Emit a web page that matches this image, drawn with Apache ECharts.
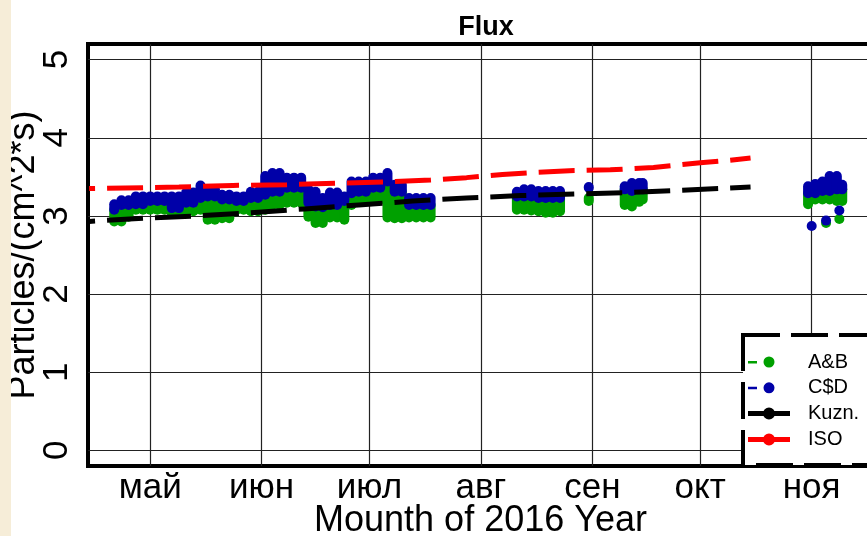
<!DOCTYPE html>
<html><head><meta charset="utf-8">
<script src="https://cdn.jsdelivr.net/npm/echarts@6/dist/echarts.min.js"></script>
<style>html,body{margin:0;padding:0;background:#fff;}#c{width:867px;height:536px;}</style>
</head><body><div id="c"></div>
<script>
// Month tick positions (day of year 2016) and labels
const monthDays = [122, 153, 183, 214, 245, 275, 306];
const monthLabels = ['май', 'июн', 'июл', 'авг', 'сен', 'окт', 'ноя'];
const yTicks = [0, 1, 2, 3, 4, 5];

// Point clouds: sample day, and lower/upper envelope of each series' points
const cloudDays = [112,114,116,118,120,122,124,126,128,130,132,134,136,138,140,142,144,146,148,150,
  152,154,156,158,160,162,164,166,168,170,172,174,176,178,180,182,184,186,188,190,192,194,196,198,200,
  224,226,228,230,232,234,236, 244, 254,256,258,259, 305,307,309,311,313,314.5];
const cdHigh = [3.15,3.20,3.20,3.25,3.25,3.25,3.25,3.25,3.25,3.25,3.30,3.30,3.39,3.34,3.34,3.27,3.27,3.25,3.25,3.31,
  3.31,3.51,3.55,3.55,3.49,3.49,3.49,3.34,3.31,3.23,3.30,3.30,3.25,3.44,3.44,3.44,3.49,3.49,3.55,3.40,3.40,3.23,3.23,3.23,3.23,
  3.31,3.34,3.34,3.32,3.32,3.32,3.32, 3.37, 3.38,3.42,3.42,3.42, 3.38,3.41,3.44,3.51,3.51,3.40];
const cdLow = [3.08,3.14,3.14,3.15,3.15,3.19,3.19,3.19,3.10,3.10,3.17,3.17,3.23,3.25,3.25,3.21,3.21,3.19,3.19,3.23,
  3.23,3.27,3.31,3.31,3.36,3.36,3.36,3.17,3.12,3.11,3.14,3.14,3.19,3.29,3.31,3.31,3.36,3.36,3.44,3.31,3.31,3.14,3.14,3.14,3.14,
  3.25,3.25,3.25,3.23,3.23,3.23,3.23, 3.36, 3.34,3.32,3.34,3.34, 3.29,3.29,3.32,3.32,3.34,3.34];
const abHigh = [3.08,3.14,3.14,3.15,3.15,3.19,3.19,3.19,3.10,3.10,3.17,3.17,3.23,3.25,3.25,3.21,3.21,3.19,3.19,3.23,
  3.23,3.27,3.31,3.31,3.36,3.36,3.36,3.17,3.12,3.11,3.14,3.14,3.19,3.29,3.31,3.31,3.36,3.36,3.44,3.31,3.31,3.14,3.14,3.14,3.14,
  3.25,3.25,3.25,3.23,3.23,3.23,3.23, 3.23, 3.34,3.32,3.34,3.34, 3.29,3.29,3.32,3.32,3.34,3.34];
const abLow = [2.93,2.93,2.99,3.08,3.08,3.08,3.08,3.08,3.04,3.04,3.06,3.06,3.08,2.95,2.95,2.97,2.97,3.08,3.08,3.06,
  3.06,3.08,3.14,3.14,3.17,3.17,3.17,2.99,2.91,2.91,2.98,2.98,2.95,3.14,3.19,3.19,3.21,3.21,2.98,2.97,2.97,2.98,2.98,2.98,2.98,
  3.08,3.08,3.07,3.06,3.04,3.04,3.06, 3.19, 3.14,3.12,3.18,3.21, 3.15,3.21,3.21,3.21,3.19,3.19];
// isolated points
const cdOutDays = [306, 310, 313.7];
const cdOutVals = [2.87, 2.94, 3.07];
const abOutDays = [310, 313.7];
const abOutVals = [2.91, 2.96];

// Model lines
const kuznDays = [105,120,135,150,165,180,195,210,225,240,255,270,289];
const kuznVals = [2.93,2.97,3.00,3.04,3.09,3.14,3.19,3.23,3.26,3.28,3.30,3.33,3.37];
const isoDays = [105,130,145,160,175,190,200,210,220,230,240,250,262,275,283,289];
const isoVals = [3.35,3.37,3.39,3.40,3.42,3.44,3.46,3.49,3.53,3.56,3.58,3.59,3.62,3.68,3.71,3.74];

const FONT = '"Liberation Sans", Arial, sans-serif';

function cloudData(days, lo, hi, outD, outV) {
  const d = days.map((x, i) => [x, lo[i], hi[i]]);
  outD.forEach((x, i) => d.push([x, outV[i], outV[i]]));
  return d;
}
function capsule(params, api) {
  const t = api.coord([api.value(0), api.value(2)]);
  const b = api.coord([api.value(0), api.value(1)]);
  const r = 5;
  return {
    type: 'rect',
    shape: { x: t[0] - r, y: t[1] - r, width: 2 * r, height: (b[1] - t[1]) + 2 * r, r: r },
    style: { fill: api.visual('color') }
  };
}

const cloudIcon = 'path://M0,0M42,14M0,6h9v2.5h-9z M15.5,7a5.5,5.5 0 1,1 11,0a5.5,5.5 0 1,1 -11,0z';
const lineIcon = 'path://M0,0M42,14M0,4.5h42v5h-42z M15,7a6,6 0 1,1 12,0a6,6 0 1,1 -12,0z';

const chart = echarts.init(document.getElementById('c'), null, { renderer: 'canvas' });
chart.setOption({
  animation: false,
  backgroundColor: '#ffffff',
  title: {
    text: 'Flux', left: 481, top: 9, textAlign: 'center',
    textStyle: { fontFamily: FONT, fontSize: 27, fontWeight: 'bold', color: '#000' }
  },
  grid: {
    left: 88, top: 44, width: 785, height: 422,
    containLabel: false, outerBoundsMode: 'none',
    show: true, borderWidth: 4, borderColor: '#000', backgroundColor: '#fff'
  },
  xAxis: {
    type: 'value', min: 104.7, max: 323.06,
    name: 'Mounth of 2016 Year', nameLocation: 'middle', nameGap: 37, nameMoveOverlap: false,
    nameTextStyle: { fontFamily: FONT, fontSize: 36, color: '#000' },
    axisLine: { show: false },
    axisTick: { show: false, customValues: monthDays },
    axisLabel: {
      customValues: monthDays, margin: 5,
      formatter: v => monthLabels[monthDays.indexOf(v)] || '',
      fontFamily: FONT, fontSize: 35, color: '#000'
    },
    splitLine: { show: true, lineStyle: { color: '#222', width: 1.2 } }
  },
  yAxis: {
    type: 'value', min: -0.2, max: 5.2,
    name: 'Particles/(cm^2*s)', nameLocation: 'middle', nameGap: 46, nameRotate: 90, nameMoveOverlap: false,
    nameTextStyle: { fontFamily: FONT, fontSize: 36, color: '#000' },
    axisLine: { show: false },
    axisTick: { show: false, customValues: yTicks },
    axisLabel: { customValues: yTicks, rotate: 90, margin: 13, fontFamily: FONT, fontSize: 35, color: '#000' },
    splitLine: { show: true, lineStyle: { color: '#222', width: 1.2 } }
  },
  legend: {
    orient: 'vertical', left: 748, top: 352, padding: 0,
    itemWidth: 42, itemHeight: 14, itemGap: 5.8,
    textStyle: { fontFamily: FONT, fontSize: 20, color: '#000', lineHeight: 14, padding: [0, 0, 0, 13] },
    data: [
      { name: 'A&B', icon: cloudIcon },
      { name: 'C$D', icon: cloudIcon },
      { name: 'Kuzn.', icon: lineIcon },
      { name: 'ISO', icon: lineIcon }
    ]
  },
  graphic: [
    { type: 'rect', z: 3, shape: { x: 743, y: 335, width: 200, height: 130 },
      style: { fill: '#fff', stroke: '#000', lineWidth: 4, lineDash: [37, 11] } },
    { type: 'rect', z: 100, shape: { x: 0, y: 0, width: 11, height: 536 }, style: { fill: '#F6EDD8' } }
  ],
  series: [
    { name: 'A&B', type: 'custom', renderItem: capsule, itemStyle: { color: '#00A000' },
      encode: { x: 0, y: [1, 2] }, z: 2,
      data: cloudData(cloudDays, abLow, abHigh, abOutDays, abOutVals) },
    { name: 'C$D', type: 'custom', renderItem: capsule, itemStyle: { color: '#0000A8' },
      encode: { x: 0, y: [1, 2] }, z: 2,
      data: cloudData(cloudDays, cdLow, cdHigh, cdOutDays, cdOutVals) },
    { name: 'Kuzn.', type: 'line', symbol: 'none', color: '#000', z: 3,
      lineStyle: { color: '#000', width: 5, type: [36, 12], dashOffset: 30, cap: 'butt' },
      data: kuznDays.map((d, i) => [d, kuznVals[i]]) },
    { name: 'ISO', type: 'line', symbol: 'none', color: '#FF0000', z: 3,
      lineStyle: { color: '#FF0000', width: 5, type: [36, 12], dashOffset: 30, cap: 'butt' },
      data: isoDays.map((d, i) => [d, isoVals[i]]) }
  ]
});
</script></body></html>
